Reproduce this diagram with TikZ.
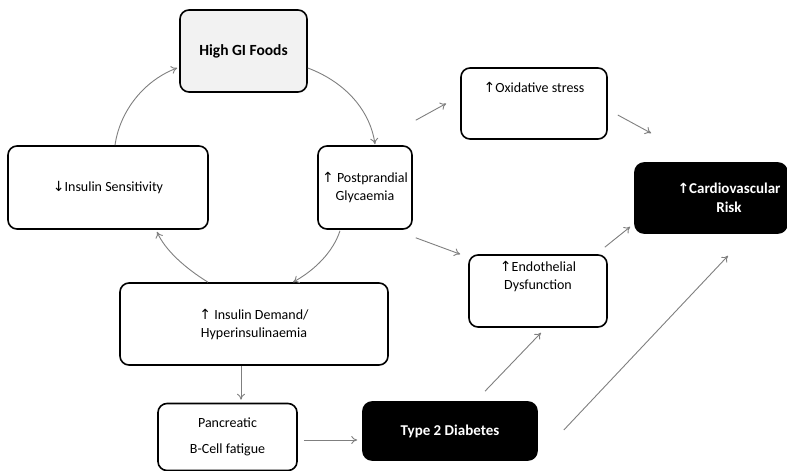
\documentclass[tikz,border=0pt]{standalone}
\usepackage{fontspec}
\setmainfont{Carlito}
\newfontfamily\arrowfont{DejaVu Sans}
\usetikzlibrary{arrows.meta}
\newcommand{\upar}{{\arrowfont\fontsize{14}{14}\selectfont\char"2191}}
\newcommand{\downar}{{\arrowfont\fontsize{14}{14}\selectfont\char"2193}}
\definecolor{arrowgray}{HTML}{7F7F7F}
\definecolor{foodgray}{HTML}{F2F2F2}

\begin{document}
\begin{tikzpicture}[
  x=1pt, y=-1pt,
  every node/.style={font=\fontsize{14}{18}\selectfont, align=center},
  box/.style={draw, line width=1.6pt, rounded corners=9pt, inner sep=2pt},
  dark/.style={box, fill=black, text=white, font=\fontsize{15}{19}\selectfont\bfseries},
  ar/.style={-{To[length=6pt,width=8pt]}, draw=arrowgray, line width=0.9pt}
  ]
  \useasboundingbox (0,0) rectangle (787,471);
  % cycle
  \node[box, fill=foodgray, minimum width=127pt, minimum height=82pt, font=\fontsize{15.5}{18}\selectfont\bfseries] (hgi) at (243.5,51) {High GI Foods};
  \node[box, minimum width=94pt, minimum height=83pt] (ppg) at (365,187.5) {\upar{} Postprandial\\Glycaemia};
  \node[box, minimum width=268pt, minimum height=82pt] (dem) at (254,324) {\upar{} Insulin Demand/\\Hyperinsulinaemia};
  \node[box, minimum width=200pt, minimum height=83pt] (sens) at (108,187.5) {\downar{}Insulin Sensitivity};
  % outcomes
  \node[box, minimum width=139pt, minimum height=67pt] (panc) at (227.5,437) {Pancreatic\\[8pt]B-Cell fatigue};
  \node[dark, minimum width=174pt, minimum height=58pt] (t2d) at (450,431) {Type 2 Diabetes};
  \node[box, minimum width=146pt, minimum height=71pt] (oxs) at (534,103.5) {\upar{}Oxidative stress\\[14pt]};
  \node[box, minimum width=138pt, minimum height=72pt] (endo) at (538,291) {\upar{}Endothelial\\Dysfunction\\[14pt]};
  \node[dark, minimum width=152pt, minimum height=70pt] (cvr) at (711,198) {\hspace*{36pt}\upar{}Cardiovascular\\\hspace*{36pt}Risk};

  \draw[ar] ([shift={(0,17)}]hgi.east) .. controls (345,82) and (370,110) .. ([shift={(10,-1)}]ppg.north);
  \draw[ar] ([shift={(-25,1)}]ppg.south) .. controls (333,252) and (315,270) .. ([shift={(39,0)}]dem.north);
  \draw[ar] ([shift={(-46,0)}]dem.north) .. controls (185,268) and (165,250) .. ([shift={(49,2)}]sens.south);
  \draw[ar] ([shift={(7,0)}]sens.north) .. controls (120,110) and (145,80) .. ([shift={(-2,17)}]hgi.west);

  \draw[ar] ([shift={(-13,0)}]dem.south) -- ([shift={(13.5,-3)}]panc.north);
  \draw[ar] ([shift={(6,3)}]panc.east) -- ([shift={(-5,9)}]t2d.west);
  \draw[ar] ([shift={(35,-10)}]t2d.north) -- ([shift={(3,5)}]endo.south);
  \draw[ar] ([shift={(26,-1)}]t2d.east) -- ([shift={(17,22)}]cvr.south);
  \draw[ar] ([shift={(3,-25)}]ppg.north east) -- ([shift={(-14,0)}]oxs.west);
  \draw[ar] ([shift={(3,8)}]ppg.south east) -- ([shift={(-8,0)}]endo.north west);
  \draw[ar] ([shift={(10,11.5)}]oxs.east) -- ([shift={(17,-29)}]cvr.north west);
  \draw[ar] ([shift={(-3,-7)}]endo.north east) -- ([shift={(-4,-7)}]cvr.south west);
\end{tikzpicture}
\end{document}
